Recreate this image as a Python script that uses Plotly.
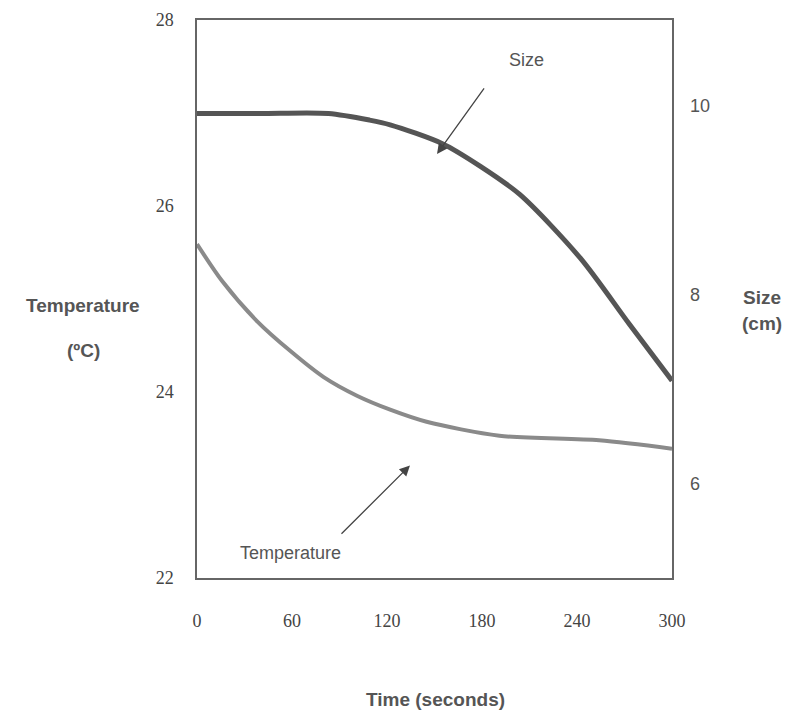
import plotly.graph_objects as go

# Data
time_size = [0, 40, 83, 109, 122, 155, 179, 204, 242, 273, 300]
size_cm = [9.92, 9.92, 9.92, 9.85, 9.80, 9.60, 9.36, 9.06, 8.39, 7.69, 7.09]

time_temp = [0, 16, 38, 59, 80, 101, 122, 145, 191, 254, 300]
temp_c = [25.59, 25.19, 24.76, 24.44, 24.16, 23.96, 23.81, 23.68, 23.53, 23.48, 23.39]

x_ticks = [0, 60, 120, 180, 240, 300]
y_ticks = [22, 24, 26, 28]
y2_ticks = [6, 8, 10]

fig = go.Figure()
fig.add_trace(go.Scatter(x=time_temp, y=temp_c, mode="lines",
                         line=dict(color="#8a8a8a", width=4, shape="spline", smoothing=0.8),
                         showlegend=False))
fig.add_trace(go.Scatter(x=time_size, y=size_cm, mode="lines", yaxis="y2",
                         line=dict(color="#555555", width=5, shape="spline", smoothing=0.8),
                         showlegend=False))

serif = dict(family="Liberation Serif, Times New Roman, serif", size=18, color="#444")
sans = dict(family="Liberation Sans, Arial, sans-serif", size=18, color="#555")
bold = dict(family="Liberation Sans, Arial, sans-serif", size=19, color="#555", weight="bold")

ML, MR, MT, MB = 189, 127, 10, 145
fig.update_layout(
    width=791, height=715,
    margin=dict(l=ML, r=MR, t=MT, b=MB),
    plot_bgcolor="white", paper_bgcolor="white",
    xaxis=dict(range=[0, 300], tickvals=x_ticks, showgrid=False, zeroline=False,
               showline=True, mirror=True, linecolor="#666", linewidth=1.5,
               tickfont=serif, ticklabelstandoff=26),
    yaxis=dict(range=[22, 28], tickvals=y_ticks, showgrid=False, zeroline=False,
               showline=True, mirror=True, linecolor="#666", linewidth=1.5,
               tickfont=serif, ticklabelstandoff=18, automargin=False),
    yaxis2=dict(range=[5, 10.91], tickvals=y2_ticks, overlaying="y", side="right",
                showgrid=False, zeroline=False, showline=False,
                tickfont=sans, ticklabelstandoff=17),
)

annotations = [
    dict(text="Size", x=208, y=27.57, xref="x", yref="y", showarrow=False, font=sans),
    dict(text="Temperature", x=59, y=22.27, xref="x", yref="y", showarrow=False, font=sans),
    dict(text="", x=151.6, y=26.56, xref="x", yref="y", ax=182, ay=27.28,
         axref="x", ayref="y", showarrow=True, arrowhead=2, arrowsize=1.6,
         arrowwidth=1.3, arrowcolor="#444"),
    dict(text="", x=134.5, y=23.21, xref="x", yref="y", ax=90.3, ay=22.46,
         axref="x", ayref="y", showarrow=True, arrowhead=2, arrowsize=1.6,
         arrowwidth=1.3, arrowcolor="#444"),
    dict(text="Temperature", x=83, y=305, xref="paper", yref="paper", showarrow=False, font=bold),
    dict(text="(ºC)", x=83, y=350, xref="paper", yref="paper", showarrow=False, font=bold),
    dict(text="Size", x=762, y=296, xref="paper", yref="paper", showarrow=False, font=bold),
    dict(text="(cm)", x=762, y=323, xref="paper", yref="paper", showarrow=False, font=bold),
    dict(text="Time (seconds)", x=435, y=700, xref="paper", yref="paper", showarrow=False, font=bold),
]
# convert screen pixel positions to paper coords (plot area spans 197..672 x, 18..578 y on screen)
for a in annotations:
    a["xanchor"] = "center"
    a["yanchor"] = "middle"
    if a.get("xref") == "paper":
        a["x"] = (a["x"] - 197) / 475
        a["y"] = (578 - a["y"]) / 560
fig.update_layout(annotations=annotations)

fig.write_html("out.html")
